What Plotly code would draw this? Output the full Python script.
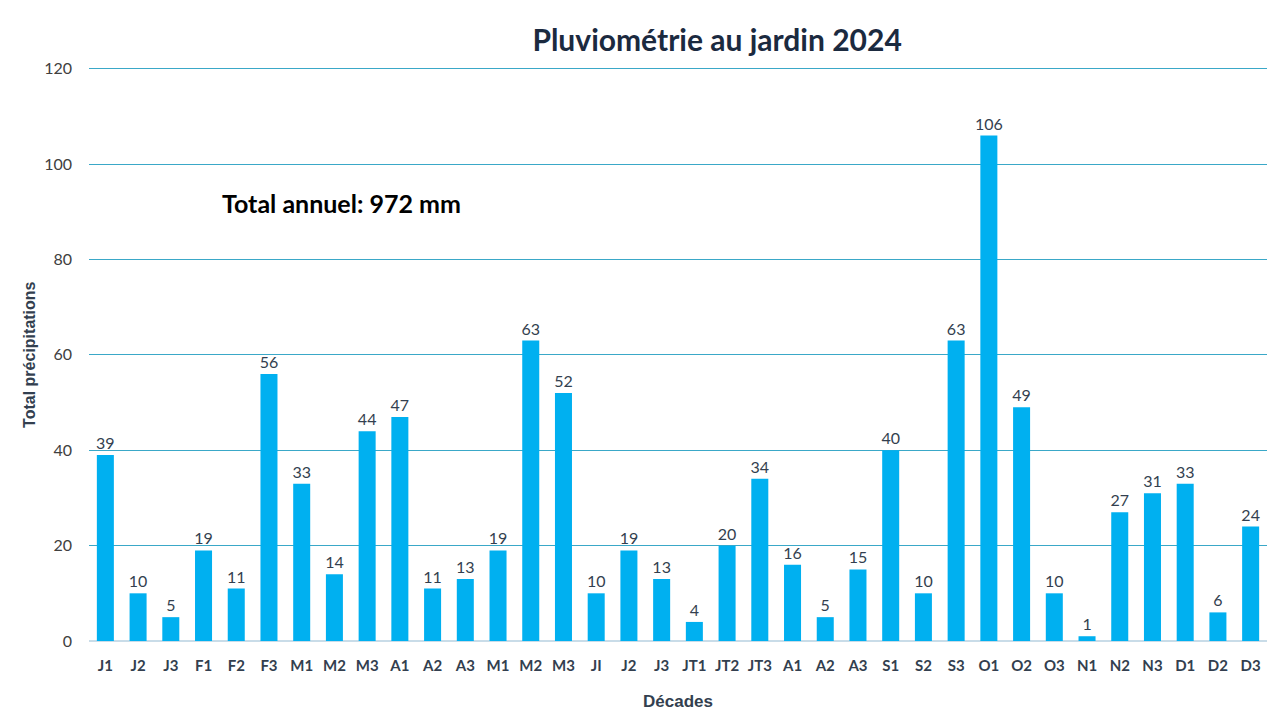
import plotly.graph_objects as go

# décades de l'année (les étiquettes se répètent, donc on place les barres par index)
decades = ['J1', 'J2', 'J3', 'F1', 'F2', 'F3', 'M1', 'M2', 'M3', 'A1', 'A2', 'A3',
           'M1', 'M2', 'M3', 'JI', 'J2', 'J3', 'JT1', 'JT2', 'JT3', 'A1', 'A2', 'A3',
           'S1', 'S2', 'S3', 'O1', 'O2', 'O3', 'N1', 'N2', 'N3', 'D1', 'D2', 'D3']
pluie_mm = [39, 10, 5, 19, 11, 56, 33, 14, 44, 47, 11, 13,
            19, 63, 52, 10, 19, 13, 4, 20, 34, 16, 5, 15,
            40, 10, 63, 106, 49, 10, 1, 27, 31, 33, 6, 24]
y_ticks = [0, 20, 40, 60, 80, 100, 120]

positions = list(range(len(decades)))
total = sum(pluie_mm)

FONT = 'Lato, Open Sans, sans-serif'
TXT = '#333F4F'

fig = go.Figure()

fig.add_trace(go.Bar(
    x=positions,
    y=pluie_mm,
    marker=dict(color='#00B0F0', line=dict(width=0)),
    text=[str(v) for v in pluie_mm],
    textposition='outside',
    constraintext='none',
    cliponaxis=False,
    textfont=dict(family=FONT, size=16, color=TXT),
    hoverinfo='x+y',
    showlegend=False,
))

# la page html a une marge de 8px, d'où la taille 1264x704
fig.update_layout(
    width=1264,
    height=704,
    margin=dict(l=81, r=5, t=56, b=71),
    paper_bgcolor='white',
    plot_bgcolor='white',
    bargap=0.48,
    title=dict(
        text='<b>Pluviométrie au jardin 2024</b>',
        font=dict(family=FONT, size=30, color='#1B2A3F'),
        xref='container', x=0.561, xanchor='center',
        yref='container', y=0.9545, yanchor='middle',
    ),
    xaxis=dict(
        tickmode='array',
        tickvals=positions,
        ticktext=['<b>{}</b>'.format(d) for d in decades],
        tickfont=dict(family=FONT, size=15, color=TXT),
        range=[-0.5, len(decades) - 0.5],
        showgrid=False,
        showline=False,
        ticks='',
        ticklabelstandoff=14,
        zeroline=False,
        automargin=False,
    ),
    yaxis=dict(
        tickmode='array',
        tickvals=y_ticks,
        range=[0, 121],
        tickfont=dict(family=FONT, size=16, color='#404040'),
        showgrid=True,
        gridcolor='#3AA8C8',
        gridwidth=1,
        zeroline=True,
        zerolinecolor='#C9DCE8',
        zerolinewidth=1.5,
        ticks='',
        ticklabelstandoff=16,
        automargin=False,
    ),
    annotations=[
        dict(text='<b>Total annuel: {} mm</b>'.format(total),
             xref='paper', yref='paper', x=0.111, y=0.759,
             xanchor='left', yanchor='middle', showarrow=False,
             font=dict(family=FONT, size=25, color='black')),
        dict(text='<b>Décades</b>',
             xref='paper', yref='paper', x=0.5, y=0,
             xanchor='center', yanchor='middle', yshift=-60, showarrow=False,
             font=dict(family='Liberation Sans, Arial, sans-serif', size=17, color=TXT)),
        dict(text='<b>Total précipitations</b>',
             xref='paper', yref='paper', x=0, y=0.5 * 120 / 121,
             xanchor='center', yanchor='middle', xshift=-59, textangle=-90,
             showarrow=False,
             font=dict(family='Liberation Sans, Arial, sans-serif', size=16, color=TXT)),
    ],
)

fig.write_html('out.html')
